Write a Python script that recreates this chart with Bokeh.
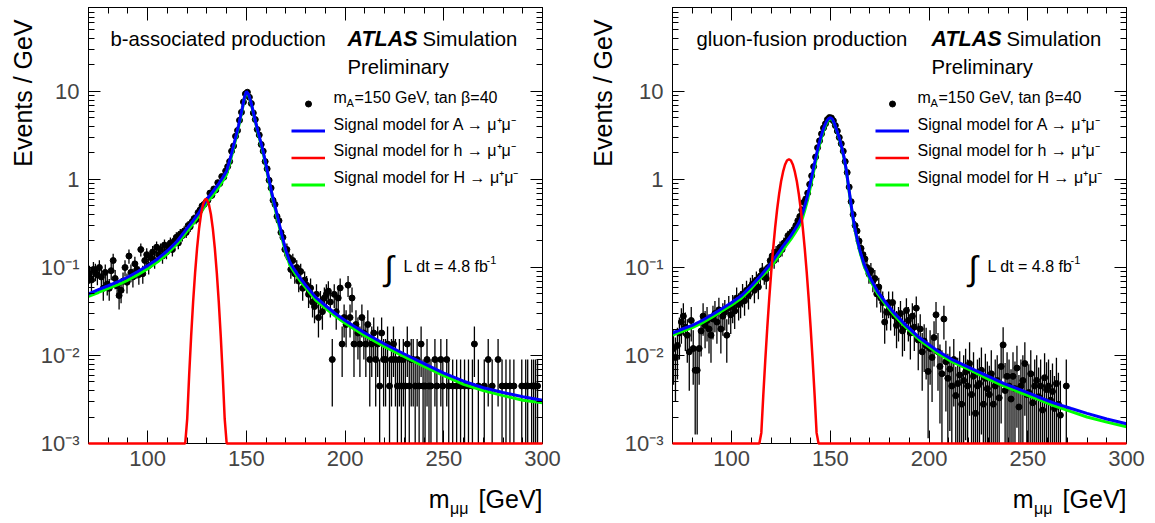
import math
from bokeh.plotting import figure
from bokeh.layouts import row, column
from bokeh.models import (Label, LinearAxis, LogAxis, FixedTicker,
                          CustomJSTickFormatter, Legend, LegendItem, ColumnDataSource)
from bokeh.embed import file_html
from bokeh.resources import INLINE

FONT = "Liberation Sans"
X_MIN, X_MAX = 70, 300
Y_MIN, Y_MAX = 1e-3, 90
MC_WEIGHT = 0.0045          # weight of one simulated event (Events/GeV)

# ---------------- axis ticks ----------------
x_major = [100, 150, 200, 250, 300]
x_minor = [80, 90, 110, 120, 130, 140, 160, 170, 180, 190, 210, 220, 230, 240,
           260, 270, 280, 290]
y_major = [1e-3, 1e-2, 1e-1, 1, 10]
y_minor = [k * 10.0 ** e for e in range(-3, 2) for k in range(2, 10)]
y_tick_labels = ["10\u207b\u00b3", "10\u207b\u00b2", "10\u207b\u00b9", "1", "10"]

# ---------------- simulated events, 1 GeV bins ----------------
mass_bins = [70.5 + i for i in range(230)]

bassoc_events = [
    0.085, 0.072, 0.095, 0.090, 0.082, 0.100, 0.078, 0.058, 0.088, 0.065,
    0.058, 0.092, 0.120, 0.075, 0.062, 0.048, 0.055, 0.070, 0.100, 0.068,
    0.135, 0.088, 0.078, 0.110, 0.095, 0.083, 0.160, 0.085, 0.120, 0.140,
    0.105, 0.130, 0.150, 0.120, 0.170, 0.140, 0.160, 0.135, 0.180, 0.150,
    0.170, 0.190, 0.160, 0.200, 0.220, 0.190, 0.240, 0.230, 0.260, 0.250,
    0.300, 0.290, 0.330, 0.360, 0.350, 0.420, 0.450, 0.500, 0.520, 0.550,
    0.580, 0.700, 0.660, 0.780, 0.760, 0.920, 0.900, 1.080, 1.060, 1.250,
    1.40, 1.60, 2.10, 2.40, 3.10, 3.60, 4.70, 5.80, 7.60, 9.40,
    9.80, 8.60, 7.30, 5.70, 4.80, 3.70, 3.20, 2.50, 2.10, 1.60,
    1.32, 0.98, 0.80, 0.58, 0.52, 0.38, 0.34, 0.25, 0.22, 0.16,
    0.160, 0.130, 0.095, 0.120, 0.085, 0.100, 0.070, 0.090, 0.058, 0.072,
    0.063, 0.0495, 0.0585, 0.0405, 0.036, 0.0495, 0.027, 0.0405, 0.0315, 0.045,
    0.0495, 0.054, 0.0405, 0.009, 0.0495, 0.0315, 0.045, 0.0585, 0.0135, 0.027,
    0.0225, 0.063, 0.027, 0.045, 0.0135, 0.0225, 0.018, 0.0135, 0.027, 0.018,
    0.0135, 0.0225, 0.009, 0.0135, 0.018, 0.009, 0.0135, 0.0045, 0.018, 0.009,
    0.009, 0.0135, 0.0045, 0.009, 0.0135, 0.009, 0.0045, 0.009, 0.0045, 0.009,
    0.0045, 0.0135, 0.0045, 0.009, 0.009, 0.0045, 0.009, 0.0045, 0.0135, 0.0045,
    0.0045, 0.009, 0.0045, 0.0045, 0.0, 0.009, 0.0045, 0.0, 0.009, 0.0045,
    0.0, 0.009, 0.0045, 0.0, 0.0045, 0.0, 0.0045, 0.0, 0.0045, 0.0,
    0.0045, 0.0, 0.0045, 0.0, 0.0045, 0.0135, 0.0, 0.0045, 0.0, 0.0,
    0.0045, 0.0, 0.009, 0.0, 0.0045, 0.0, 0.0, 0.009, 0.0, 0.0045,
    0.0, 0.0045, 0.0, 0.0045, 0.0, 0.0045, 0.0, 0.0, 0.0, 0.0045,
    0.0, 0.0045, 0.0045, 0.0, 0.0045, 0.0045, 0.0045, 0.0045, 0.0, 0.0,
]

ggf_events = [
    0.012, 0.0095, 0.013, 0.018, 0.024, 0.028, 0.021, 0.017, 0.011, 0.025,
    0.012, 0.0068, 0.0068, 0.012, 0.019, 0.028, 0.022, 0.025, 0.020, 0.017,
    0.026, 0.030, 0.024, 0.033, 0.020, 0.028, 0.031, 0.017, 0.035, 0.029,
    0.036, 0.032, 0.045, 0.038, 0.040, 0.050, 0.042, 0.055, 0.048, 0.060,
    0.065, 0.055, 0.072, 0.060, 0.080, 0.092, 0.083, 0.075, 0.100, 0.120,
    0.135, 0.120, 0.150, 0.140, 0.170, 0.160, 0.190, 0.200, 0.230, 0.240,
    0.25, 0.27, 0.30, 0.34, 0.38, 0.45, 0.55, 0.60, 0.70, 0.88,
    1.10, 1.40, 1.80, 2.30, 2.75, 3.30, 3.85, 4.30, 4.80, 5.05,
    5.00, 4.65, 4.10, 3.55, 3.00, 2.55, 2.10, 1.60, 1.20, 0.82,
    0.56, 0.40, 0.30, 0.26, 0.20, 0.165, 0.14, 0.125, 0.10, 0.085,
    0.092, 0.070, 0.075, 0.050, 0.060, 0.045, 0.040, 0.024, 0.031, 0.040,
    0.031, 0.040, 0.028, 0.022, 0.025, 0.030, 0.019, 0.021, 0.0325, 0.025,
    0.018, 0.028, 0.021, 0.0345, 0.015, 0.020, 0.011, 0.0146, 0.013, 0.0066,
    0.012, 0.0095, 0.016, 0.029, 0.011, 0.0075, 0.0062, 0.026, 0.0085, 0.0055,
    0.007, 0.0045, 0.009, 0.0035, 0.0048, 0.006, 0.0028, 0.0052, 0.0065, 0.0045,
    0.0081, 0.0036, 0.0058, 0.0022, 0.0045, 0.0048, 0.0068, 0.0028, 0.0055, 0.0042,
    0.0036, 0.0062, 0.0028, 0.0045, 0.0052, 0.0033, 0.0075, 0.0132, 0.0040, 0.0058,
    0.0045, 0.0032, 0.0058, 0.0042, 0.0072, 0.0026, 0.0045, 0.0052, 0.0081, 0.0036,
    0.0038, 0.0062, 0.0029, 0.0045, 0.0052, 0.0034, 0.0045, 0.0024, 0.0056, 0.0041,
    0.0045, 0.0031, 0.0039, 0.0025, 0.0048, 0.0028, 0.0021, 0.0, 0.0, 0.0045,
    0.0, 0.0, 0.0, 0.0, 0.0, 0.0, 0.0, 0.0, 0.0, 0.0,
    0.0, 0.0, 0.0, 0.0, 0.0, 0.0, 0.0, 0.0, 0.0, 0.0,
    0.0, 0.0, 0.0, 0.0, 0.0, 0.0, 0.0, 0.0, 0.0, 0.0,
]

# ---------------- signal models, b-associated ----------------
bassoc_model_x = [70, 75, 80, 85, 90, 95, 100, 105, 110, 115, 120, 123, 126, 128, 130,
                  132, 134, 136, 138, 140, 141, 142, 143, 144, 145, 146, 147, 148, 149,
                  150, 151, 152, 153, 154, 155, 156, 157, 158, 159, 160, 161, 162, 163,
                  164, 165, 166, 167, 168, 169, 170, 172, 174, 176, 178, 180, 185, 190,
                  195, 200, 210, 220, 230, 240, 250, 260, 270, 280, 290, 300]
bassoc_A = [0.05, 0.056, 0.062, 0.069, 0.078, 0.09, 0.105, 0.125, 0.155, 0.2, 0.28, 0.34,
            0.42, 0.5, 0.6, 0.68, 0.78, 0.9, 1.05, 1.25, 1.5, 1.8, 2.2, 2.7, 3.3, 4.1,
            5.2, 6.6, 8.6, 10.0, 9.4, 8.0, 6.5, 5.2, 4.2, 3.4, 2.8, 2.3, 1.85, 1.45,
            1.12, 0.87, 0.68, 0.55, 0.45, 0.36, 0.29, 0.23, 0.19, 0.155, 0.115, 0.097,
            0.083, 0.072, 0.063, 0.046, 0.037, 0.03, 0.025, 0.018, 0.0135, 0.0104,
            0.0081, 0.0063, 0.0051, 0.0043, 0.0038, 0.0034, 0.0031]
bassoc_H = [0.047, 0.052, 0.058, 0.064, 0.072, 0.083, 0.097, 0.116, 0.144, 0.186, 0.26,
            0.315, 0.39, 0.46, 0.55, 0.62, 0.71, 0.82, 0.96, 1.15, 1.38, 1.67, 2.05,
            2.55, 3.1, 3.9, 5.0, 6.4, 8.4, 9.8, 9.2, 7.9, 6.4, 5.1, 4.1, 3.3, 2.7, 2.2,
            1.77, 1.38, 1.06, 0.82, 0.64, 0.52, 0.42, 0.335, 0.27, 0.215, 0.177, 0.145,
            0.107, 0.09, 0.077, 0.067, 0.059, 0.043, 0.0345, 0.028, 0.0233, 0.0168,
            0.0126, 0.0097, 0.0075, 0.0059, 0.0047, 0.004, 0.0035, 0.0031, 0.0029]
bassoc_h_x = [70, 118, 119, 120, 121, 122, 123, 124, 125, 126, 127, 128, 129, 129.5, 130,
              131, 132, 133, 134, 135, 136, 137, 138, 139, 140, 141, 300]
bassoc_h = [1e-9, 0.00013, 0.00053, 0.0019, 0.006, 0.0166, 0.0405, 0.087, 0.165, 0.275,
            0.403, 0.52, 0.59, 0.60, 0.59, 0.52, 0.403, 0.275, 0.165, 0.087, 0.0405,
            0.0166, 0.006, 0.0019, 0.00053, 0.00013, 1e-9]

# ---------------- signal models, gluon fusion ----------------
ggf_model_x = [70, 75, 80, 85, 90, 95, 100, 105, 110, 115, 120, 123, 126, 128, 130, 132,
               134, 135, 136, 137, 138, 139, 140, 141, 142, 143, 144, 145, 146, 147, 148,
               149, 150, 151, 152, 153, 154, 155, 156, 157, 158, 159, 160, 161, 162, 163,
               164, 165, 167, 170, 174, 178, 182, 187, 195, 204, 212, 221, 230, 238, 246,
               255, 263, 272, 280, 290, 300]
ggf_A = [0.018, 0.02, 0.022, 0.025, 0.029, 0.034, 0.04, 0.048, 0.062, 0.082, 0.112, 0.14,
         0.175, 0.2, 0.23, 0.27, 0.32, 0.36, 0.42, 0.5, 0.6, 0.75, 0.95, 1.2, 1.55, 1.95,
         2.45, 2.95, 3.5, 4.05, 4.55, 4.9, 5.05, 4.85, 4.35, 3.75, 3.2, 2.7, 2.2, 1.75,
         1.3, 0.9, 0.62, 0.43, 0.31, 0.24, 0.19, 0.155, 0.11, 0.077, 0.053, 0.04, 0.031,
         0.0235, 0.016, 0.0114, 0.0089, 0.0072, 0.0058, 0.0048, 0.0041, 0.0034, 0.0029,
         0.0025, 0.0022, 0.0019, 0.00168]
ggf_H = [0.017, 0.0188, 0.0207, 0.0235, 0.0272, 0.032, 0.0375, 0.045, 0.058, 0.078, 0.102,
         0.128, 0.16, 0.183, 0.21, 0.245, 0.29, 0.325, 0.375, 0.445, 0.54, 0.67, 0.85,
         1.08, 1.4, 1.78, 2.25, 2.75, 3.3, 3.85, 4.35, 4.75, 4.9, 4.75, 4.3, 3.7, 3.15,
         2.65, 2.15, 1.7, 1.27, 0.88, 0.6, 0.415, 0.3, 0.232, 0.183, 0.149, 0.105, 0.073,
         0.05, 0.0378, 0.0293, 0.0222, 0.0151, 0.0107, 0.0084, 0.0068, 0.0054, 0.0045,
         0.0038, 0.0032, 0.0027, 0.0023, 0.002, 0.00175, 0.00155]
ggf_h_x = [70, 113, 114, 115, 116, 117, 118, 119, 120, 121, 122, 123, 124, 125, 126, 127,
           128, 129, 130, 131, 132, 133, 134, 135, 136, 137, 138, 139, 140, 141, 142, 143,
           144, 145, 300]
ggf_h = [1e-9, 0.00015, 0.00046, 0.00132, 0.00355, 0.0088, 0.0205, 0.044, 0.088, 0.164,
         0.284, 0.456, 0.68, 0.95, 1.22, 1.47, 1.64, 1.70, 1.64, 1.47, 1.22, 0.95, 0.68,
         0.456, 0.284, 0.164, 0.088, 0.044, 0.0205, 0.0088, 0.00355, 0.00132, 0.00046,
         0.00015, 1e-9]

legend_texts = ["Signal model for A \u2192 \u03bc\u207a\u03bc\u207b",
                "Signal model for h \u2192 \u03bc\u207a\u03bc\u207b",
                "Signal model for H \u2192 \u03bc\u207a\u03bc\u207b"]

FRAME_W, FRAME_H = 454, 436
TOP_B, BOTTOM_B = 7, 35          # main figure borders
YTITLE_W, XTITLE_H = 37, 45      # side text strips


def style_axis(ax, ticker, major_len, minor_len, blank=False):
    ax.ticker = ticker
    ax.major_tick_in = major_len
    ax.major_tick_out = 0
    ax.minor_tick_in = minor_len
    ax.minor_tick_out = 0
    ax.axis_line_color = "black"
    ax.major_tick_line_color = "black"
    ax.minor_tick_line_color = "black"
    ax.axis_line_width = 1
    if blank:
        ax.formatter = CustomJSTickFormatter(code="return ''")


def text(p, s, x, y, size, dx=0, dy=0, align="left", style="normal", angle=0.0):
    p.add_layout(Label(x=x, y=y, x_offset=dx, y_offset=dy, text=s,
                       text_font=FONT, text_font_size=f"{size}px",
                       text_align=align, text_baseline="middle",
                       text_font_style=style, angle=angle, text_color="black"))


def text_strip(width, height):
    f = figure(width=width, height=height, x_range=(0, width), y_range=(0, height),
               x_axis_location=None, y_axis_location=None, min_border=0,
               toolbar_location=None, output_backend="svg", outline_line_color=None)
    f.xgrid.visible = False
    f.ygrid.visible = False
    f.background_fill_color = "white"
    f.border_fill_color = "white"
    return f


def build_panel(production, title_dx, events, mx, a_y, H_y, hx, h_y,
                frame_left, border_right):
    p = figure(frame_width=FRAME_W, frame_height=FRAME_H,
               x_range=(X_MIN, X_MAX), y_range=(Y_MIN, Y_MAX),
               y_axis_type="log", output_backend="svg", toolbar_location=None,
               min_border_left=frame_left - YTITLE_W, min_border_right=border_right,
               min_border_top=TOP_B, min_border_bottom=BOTTOM_B)
    p.xgrid.visible = False
    p.ygrid.visible = False
    p.outline_line_color = "black"
    p.background_fill_color = "white"
    p.border_fill_color = "white"

    bx = p.xaxis[0]
    style_axis(bx, FixedTicker(ticks=x_major, minor_ticks=x_minor), 13, 6)
    bx.major_label_text_font = FONT
    bx.major_label_text_font_size = "22px"
    bx.major_label_standoff = 7
    ly = p.yaxis[0]
    style_axis(ly, FixedTicker(ticks=y_major, minor_ticks=y_minor), 12, 6)
    ly.formatter = CustomJSTickFormatter(
        args=dict(major=y_major, names=y_tick_labels),
        code="""
        for (let i = 0; i < major.length; i++) {
            if (Math.abs(Math.log10(tick) - Math.log10(major[i])) < 1e-6) return names[i];
        }
        return '';
        """)
    ly.major_label_text_font = FONT
    ly.major_label_text_font_size = "22px"
    ly.major_label_standoff = 9
    top = LinearAxis()
    style_axis(top, FixedTicker(ticks=x_major, minor_ticks=x_minor), 13, 6, blank=True)
    p.add_layout(top, "above")
    right = LogAxis()
    style_axis(right, FixedTicker(ticks=y_major, minor_ticks=y_minor), 12, 6, blank=True)
    p.add_layout(right, "right")

    # simulated events with statistical errors
    xs, ys, lo, hi = [], [], [], []
    for x, y in zip(mass_bins, events):
        if y > 0:
            e = math.sqrt(MC_WEIGHT * y)
            xs.append(x)
            ys.append(y)
            lo.append(max(y - e, 1e-6))
            hi.append(y + e)
    src = ColumnDataSource(dict(x=xs, y=ys, lo=lo, hi=hi))
    p.segment(x0="x", y0="lo", x1="x", y1="hi", source=src,
              line_color="black", line_width=1.3)
    dots = p.scatter("x", "y", source=src, size=6, fill_color="black",
                     line_color="black")
    green = p.line(mx, H_y, line_color="#00ff00", line_width=3)
    blue = p.line(mx, a_y, line_color="#0000ff", line_width=3)
    red = p.line(hx, [max(v, Y_MIN) for v in h_y], line_color="#ff0000",
                 line_width=2.5, level="overlay")

    legend = Legend(items=[LegendItem(label=" ", renderers=[dots]),
                           LegendItem(label=" ", renderers=[blue]),
                           LegendItem(label=" ", renderers=[red]),
                           LegendItem(label=" ", renderers=[green])],
                    location=(203, 245), orientation="vertical",
                    glyph_width=34, glyph_height=15, label_height=27,
                    label_width=1, label_standoff=0, spacing=0, padding=0,
                    margin=0, border_line_color=None, background_fill_alpha=0,
                    label_text_font_size="1px")
    p.add_layout(legend)

    # header texts (offsets from the frame's top-left corner)
    text(p, production, X_MIN, Y_MAX, 20.3, title_dx, -31)
    text(p, "ATLAS", X_MIN, Y_MAX, 21.5, 259, -31, style="bold italic")
    text(p, "Simulation", X_MIN, Y_MAX, 20.3, 334, -31)
    text(p, "Preliminary", X_MIN, Y_MAX, 20.3, 259, -59.5)

    # legend texts
    text(p, "m", X_MIN, Y_MAX, 16, 245, -90)
    text(p, "A", X_MIN, Y_MAX, 11, 258, -95.5)
    text(p, "=150 GeV, tan \u03b2=40", X_MIN, Y_MAX, 16, 266, -90)
    for i, s in enumerate(legend_texts):
        text(p, s, X_MIN, Y_MAX, 16, 245, -116.5 - 26.7 * i)

    # luminosity
    text(p, "\u222b", X_MIN, Y_MAX, 34, 296, -260.5)
    text(p, "L dt = 4.8 fb", X_MIN, Y_MAX, 16, 315, -259)
    text(p, "-1", X_MIN, Y_MAX, 11, 398, -252.5)

    main_h = TOP_B + FRAME_H + BOTTOM_B
    ytitle = text_strip(YTITLE_W, main_h)
    text(ytitle, "Events / GeV", 22, main_h - 13, 25, align="right",
         angle=math.pi / 2)

    panel_w = frame_left + FRAME_W + border_right
    xtitle = text_strip(panel_w, XTITLE_H)
    x_right = frame_left + FRAME_W
    text(xtitle, "[GeV]", x_right, 25, 25, align="right")
    text(xtitle, "\u03bc\u03bc", x_right - 74, 15.5, 16, align="right")
    text(xtitle, "m", x_right - 93, 25, 25, align="right")

    return column(row(ytitle, p), xtitle)


left = build_panel("b-associated production", 22, bassoc_events, bassoc_model_x,
                   bassoc_A, bassoc_H, bassoc_h_x, bassoc_h, 88, 38)
right = build_panel("gluon-fusion production", 24, ggf_events, ggf_model_x,
                    ggf_A, ggf_H, ggf_h_x, ggf_h, 92, 29)

layout = row(left, right)
open("out.html", "w").write(file_html(layout, INLINE))
